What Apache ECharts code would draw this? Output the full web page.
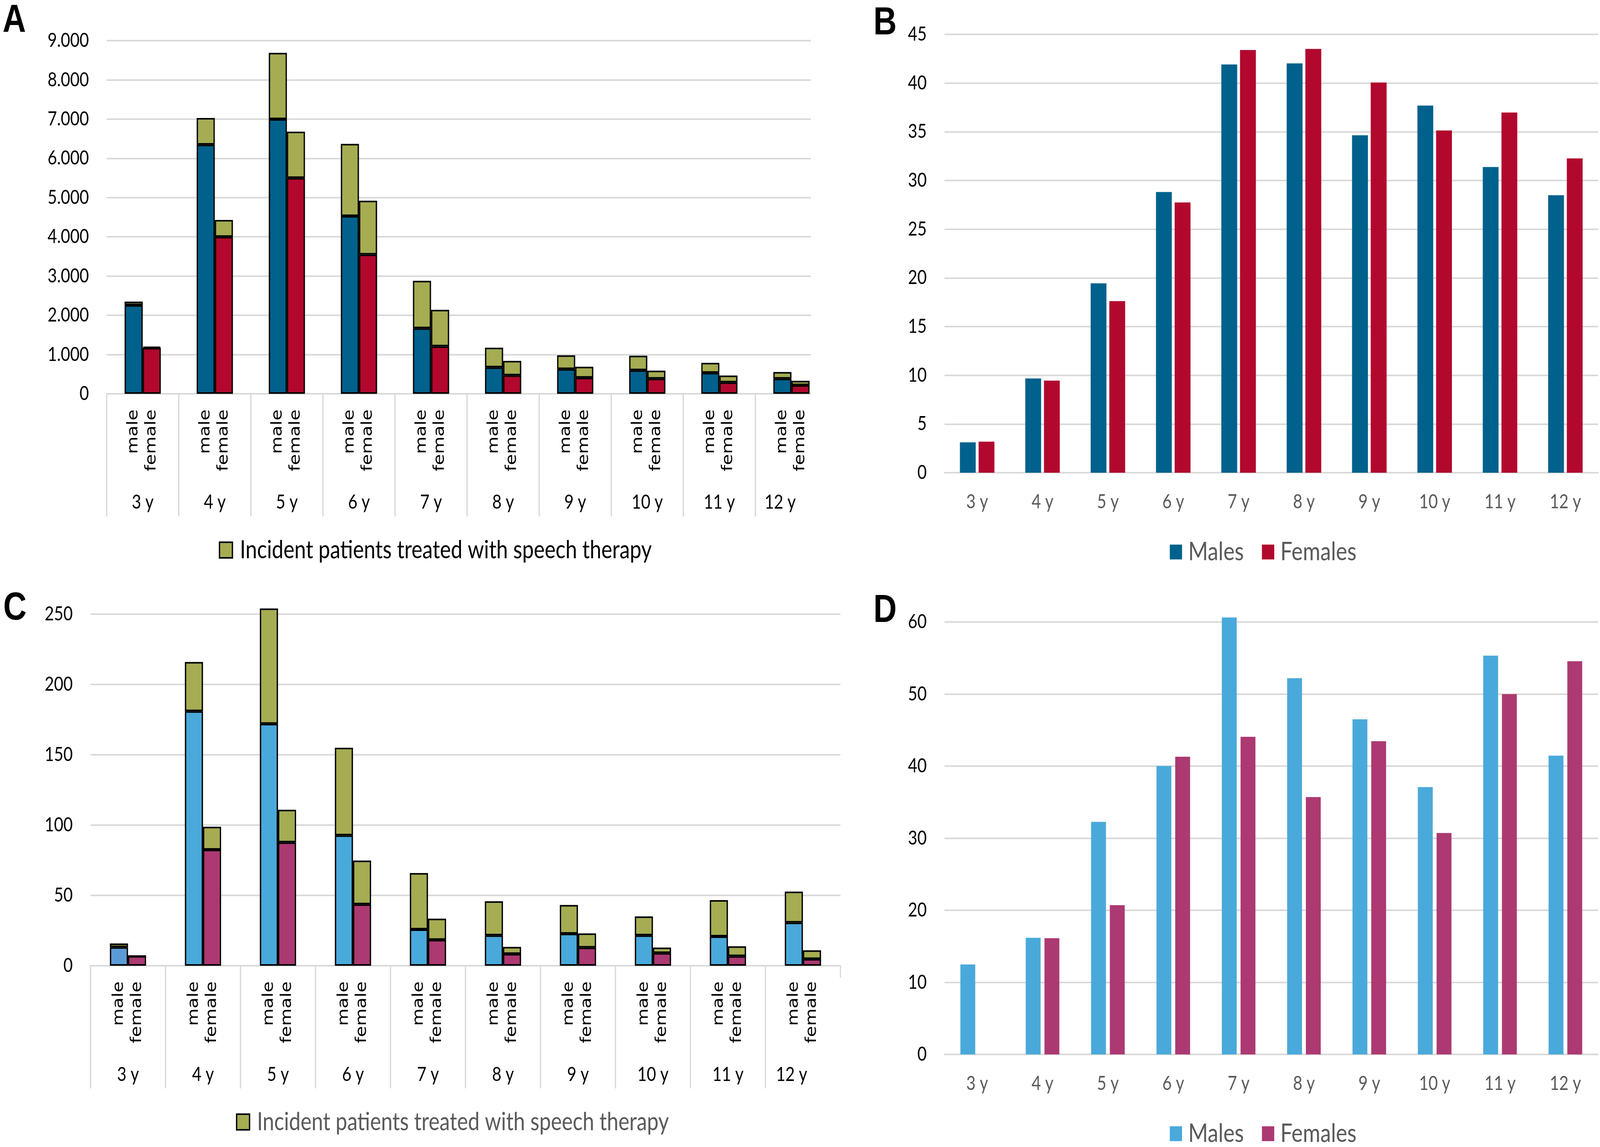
<!DOCTYPE html>
<html><head><meta charset="utf-8">
<script src="https://cdn.jsdelivr.net/npm/echarts@6/dist/echarts.min.js"></script>
<style>html,body{margin:0;padding:0;background:#fff;overflow:hidden}#c{width:4950px;height:2936px;transform-origin:0 0;position:absolute;left:0;top:0}</style>
</head><body><div id="c"></div>
<script>
// ---------- data ----------
const years = ['3 y','4 y','5 y','6 y','7 y','8 y','9 y','10 y','11 y','12 y'];
const sexLabel = 'male\nfemale';
const therapyName = 'Incident patients treated with speech therapy';

// Panel A (counts)
const aMaleBase      = [2260, 6350, 7000, 4530, 1670, 675, 630, 600, 535, 385];
const aMaleTherapy   = [90, 680, 1690, 1840, 1210, 500, 350, 370, 255, 170];
const aFemaleBase    = [1170, 4000, 5500, 3550, 1210, 470, 410, 385, 290, 220];
const aFemaleTherapy = [30, 430, 1180, 1370, 930, 370, 280, 205, 175, 110];

// Panel B (%)
const bMales   = [3.12, 9.68, 19.44, 28.82, 41.91, 42.02, 34.64, 37.69, 31.38, 28.49];
const bFemales = [3.19, 9.46, 17.62, 27.74, 43.40, 43.51, 40.06, 35.13, 36.98, 32.27];

// Panel C (counts)
const cMaleBase      = [13.2, 181, 172, 92.7, 25.8, 21.6, 22.8, 21.6, 20.8, 30.7];
const cMaleTherapy   = [2.6, 35, 82, 62.3, 40.1, 24.2, 20.4, 13.5, 25.9, 22];
const cFemaleBase    = [6.9, 82.5, 87.7, 43.7, 18.4, 8.4, 12.9, 9.0, 6.8, 4.8];
const cFemaleTherapy = [0, 16.3, 23.2, 31.1, 15.1, 5, 10.1, 3.9, 7, 6.2];

// Panel D (%)
const dMales   = [12.48, 16.18, 32.26, 40.02, 60.62, 52.19, 46.49, 37.09, 55.32, 41.45];
const dFemales = [0, 16.13, 20.70, 41.30, 44.07, 35.70, 43.46, 30.72, 49.98, 54.55];

// ---------- fit the 4950x2936 drawing into the actual viewport ----------
(function(){
  const el = document.getElementById('c');
  const kx = window.innerWidth / 4950, ky = window.innerHeight / 2936;
  if (kx > 0 && ky > 0 && (Math.abs(kx - 1) > 0.001 || Math.abs(ky - 1) > 0.001)) {
    el.style.transform = 'scale(' + kx + ',' + ky + ')';
  }
})();

// ---------- style ----------
const DARKBLUE = '#00618c', DARKRED = '#b2082e', GREEN = '#a5ac52';
const LIGHTBLUE = '#4aa9db', MAGENTA = '#ac3972', BLUE3 = '#5b9bd5';
const GRIDC = '#d9d9d9';
const FONT = 'Lato, "Liberation Sans", sans-serif';
const SEXFONT = '"DejaVu Sans", Verdana, sans-serif';

function dotThousands(v){ return String(v).replace(/\B(?=(\d{3})+(?!\d))/g, '.'); }

function valueAxis(gi, max, interval, fmt, color){
  return {
    type:'value', gridIndex:gi, min:0, max:max, interval:interval,
    axisLine:{show:false}, axisTick:{show:false},
    splitLine:{show:true, lineStyle:{color:GRIDC, width:4}},
    axisLabel:{margin:55, fontSize:50, color:color||'#000', fontFamily:FONT, formatter:fmt}
  };
}
function lastYearFmt(v, i){ return i === years.length-1 ? '{s|' + v + '}' : v; }
function sexAxis(gi){
  return {
    type:'category', gridIndex:gi, data:years, position:'bottom',
    axisLine:{show:true, lineStyle:{color:GRIDC, width:4}},
    axisTick:{show:true, length:314, lineStyle:{color:GRIDC, width:4}},
    axisLabel:{show:true, interval:0, rotate:90, margin:40, formatter:function(){return sexLabel;},
      fontFamily:SEXFONT, fontSize:46, lineHeight:56, color:'#000'}
  };
}
function yearAxis(gi, margin){
  return {
    type:'category', gridIndex:gi, data:years, position:'bottom',
    axisLine:{show:false}, axisTick:{show:false}, splitLine:{show:false},
    axisLabel:{show:true, interval:0, margin:margin, verticalAlign:'middle',
      fontFamily:FONT, fontSize:50, color:'#000', formatter:lastYearFmt,
      rich:{s:{fontFamily:FONT, fontSize:50, color:'#000', padding:[0,70,0,0]}}}
  };
}
function plainCatAxis(gi){
  return {
    type:'category', gridIndex:gi, data:years, position:'bottom',
    axisLine:{show:true, lineStyle:{color:GRIDC, width:4}}, axisTick:{show:false},
    axisLabel:{interval:0, margin:75, verticalAlign:'middle', fontFamily:FONT, fontSize:50, color:'#595959'}
  };
}
function stackBar(name, xi, yi, stack, data, color, colorFirst){
  return {
    type:'bar', name:name, xAxisIndex:xi, yAxisIndex:yi, stack:stack, clip:false,
    barWidth:56, barGap:'0%',
    data: data.map(function(v, i){
      return (i === 0 && colorFirst) ? {value:v, itemStyle:{color:colorFirst}} : v;
    }),
    itemStyle:{color:color, borderColor:'#000', borderWidth:4},
    emphasis:{disabled:true}
  };
}
function simpleBar(name, xi, yi, data, color, w, gap){
  return {
    type:'bar', name:name, xAxisIndex:xi, yAxisIndex:yi, clip:false,
    barWidth:w, barGap:gap, data:data, itemStyle:{color:color}, emphasis:{disabled:true}
  };
}

const option = {
  animation:false,
  backgroundColor:'#fff',
  grid:[
    {left:330, top:104, width:2230, height:904, outerBoundsMode:'none'},
    {left:2922, top:88, width:2022, height:1122, outerBoundsMode:'none'},
    {left:280, top:1572, width:2320, height:900, outerBoundsMode:'none'},
    {left:2922, top:1592, width:2022, height:1107, outerBoundsMode:'none'}
  ],
  xAxis:[
    sexAxis(0), yearAxis(0, 278),
    plainCatAxis(1),
    sexAxis(2), yearAxis(2, 279),
    plainCatAxis(3)
  ],
  yAxis:[
    valueAxis(0, 9000, 1000, dotThousands, '#000'),
    valueAxis(1, 45, 5, null, '#000'),
    valueAxis(2, 250, 50, null, '#000'),
    valueAxis(3, 60, 10, null, '#000')
  ],
  legend:[
    {left:672, top:1371, itemWidth:40, itemHeight:40, itemGap:40, icon:'rect',
     data:[therapyName], selectedMode:false,
     itemStyle:{borderColor:'#000', borderWidth:4},
     textStyle:{fontFamily:FONT, fontSize:64, color:'#000', padding:[0,0,0,18]}},
    {left:3614, top:1375, itemWidth:38, itemHeight:38, itemGap:56, icon:'rect', selectedMode:false,
     data:[{name:'Males', itemStyle:{color:DARKBLUE}}, {name:'Females', itemStyle:{color:DARKRED}}],
     itemStyle:{borderWidth:0},
     textStyle:{fontFamily:FONT, fontSize:66, color:'#595959', padding:[0,0,0,14]}},
    {left:725, top:2835, itemWidth:40, itemHeight:40, itemGap:40, icon:'rect',
     data:[therapyName], selectedMode:false,
     itemStyle:{borderColor:'#000', borderWidth:4},
     textStyle:{fontFamily:FONT, fontSize:64, color:'#595959', padding:[0,0,0,18]}},
    {left:3614, top:2864, itemWidth:38, itemHeight:38, itemGap:56, icon:'rect', selectedMode:false,
     data:[{name:'Males', itemStyle:{color:LIGHTBLUE}}, {name:'Females', itemStyle:{color:MAGENTA}}],
     itemStyle:{borderWidth:0},
     textStyle:{fontFamily:FONT, fontSize:66, color:'#595959', padding:[0,0,0,14]}}
  ],
  series:[
    stackBar('A male', 0, 0, 'am', aMaleBase, DARKBLUE),
    stackBar(therapyName, 0, 0, 'am', aMaleTherapy, GREEN),
    stackBar('A female', 0, 0, 'af', aFemaleBase, DARKRED),
    stackBar(therapyName, 0, 0, 'af', aFemaleTherapy, GREEN),

    simpleBar('Males', 2, 1, bMales, DARKBLUE, 49, '18%'),
    simpleBar('Females', 2, 1, bFemales, DARKRED, 49, '18%'),

    stackBar('C male', 3, 2, 'cm', cMaleBase, LIGHTBLUE, BLUE3),
    stackBar(therapyName, 3, 2, 'cm', cMaleTherapy, GREEN),
    stackBar('C female', 3, 2, 'cf', cFemaleBase, MAGENTA),
    stackBar(therapyName, 3, 2, 'cf', cFemaleTherapy, GREEN),

    simpleBar('Males', 5, 3, dMales, LIGHTBLUE, 46, '26%'),
    simpleBar('Females', 5, 3, dFemales, MAGENTA, 46, '26%')
  ],
  graphic:[
    // cropped right edge of panel A and C (as in the source figure)
    {type:'rect', shape:{x:2509, y:80, width:120, height:1260}, style:{fill:'#fff'}, z:100},
    {type:'rect', shape:{x:2546, y:2503, width:90, height:300}, style:{fill:'#fff'}, z:100},
    {type:'text', left:8, top:4, style:{text:'A', font:'bold 100px "Liberation Sans", Arial, sans-serif', fill:'#000'}, z:101},
    {type:'text', left:2702, top:10, style:{text:'B', font:'bold 100px "Liberation Sans", Arial, sans-serif', fill:'#000'}, z:101},
    {type:'text', left:10, top:1508, style:{text:'C', font:'bold 100px "Liberation Sans", Arial, sans-serif', fill:'#000'}, z:101},
    {type:'text', left:2702, top:1514, style:{text:'D', font:'bold 100px "Liberation Sans", Arial, sans-serif', fill:'#000'}, z:101}
  ]
};

const chart = echarts.init(document.getElementById('c'), null, {renderer:'canvas', width:4950, height:2936});
chart.setOption(option);
</script>
</body></html>
